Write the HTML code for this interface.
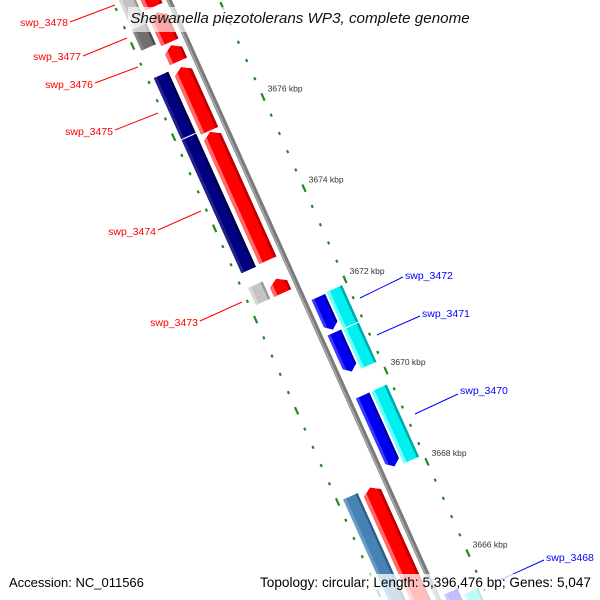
<!DOCTYPE html>
<html><head><meta charset="utf-8"><style>
html,body{margin:0;padding:0;background:#fff;width:600px;height:600px;overflow:hidden}
svg{display:block;font-family:"Liberation Sans","DejaVu Sans",sans-serif}
</style></head><body>
<svg id="map" width="600" height="600" viewBox="0 0 600 600" xmlns="http://www.w3.org/2000/svg" overflow="hidden">
<rect width="600" height="600" fill="#fff"/>
<g id="rot" transform="translate(169,0) rotate(-24.2)">
  <line x1="0" y1="-60" x2="0" y2="680" stroke="#7a7a7a" stroke-width="5"/>
  <line x1="-1.2" y1="-60" x2="-1.2" y2="680" stroke="#aaa" stroke-width="1.5"/>
  <g id="ticks"></g>
  <g id="genes"></g>
</g>
<g id="labels"></g>
<rect x="128" y="7" width="344" height="25" fill="#fff" fill-opacity="0.65"/>
<text x="300" y="23" text-anchor="middle" font-size="15.2" font-style="italic" fill="#111">Shewanella piezotolerans WP3, complete genome</text>
<rect x="4" y="574" width="146" height="26" fill="#fff" fill-opacity="0.75"/>
<rect x="256" y="574" width="344" height="26" fill="#fff" fill-opacity="0.75"/>
<text x="9" y="587" font-size="13" fill="#000">Accession: NC_011566</text>
<text x="591" y="587" font-size="13.6" text-anchor="end" fill="#000">Topology: circular; Length: 5,396,476 bp; Genes: 5,047</text>
</svg>
<script>
// ---- data ----
const geneStart = [3679.74,3678.30,3679.34,3678.42,3677.70,3677.22,3675.80,3677.24,3675.88,3672.64,3672.58,3671.90,3671.12,3671.92,3671.10,3669.74,3669.74,3668.00,3668.00,3665.44,3665.28];
const geneEnd   = [3678.30,3677.84,3678.54,3677.76,3677.34,3675.82,3672.98,3675.90,3672.96,3672.26,3672.26,3671.18,3670.26,3671.12,3670.24,3668.18,3668.16,3665.20,3665.20,3665.00,3665.00];
const geneTrack = ['oL','oL','iL','iL','iL','iL','iL','oL','oL','oL','iL','iR','iR','oR','oR','iR','oR','oL','iL','iR','oR'];
const geneKind  = ['lgray','dgray','red','red','red','red','red','navy','navy','lgray','red','blue','blue','cyan','cyan','blue','cyan','steel','red','blue','cyan'];
const majorTicks = [3678,3676,3674,3672,3670,3668,3666,3664];
const majorTickLabels = ['','3676 kbp','3674 kbp','3672 kbp','3670 kbp','3668 kbp','3666 kbp',''];
const labelNames = ['swp_3478','swp_3477','swp_3476','swp_3475','swp_3474','swp_3473','swp_3472','swp_3471','swp_3470','swp_3468'];
const labelColors = ['red','red','red','red','red','red','blue','blue','blue','blue'];

// ---- axis ----
const S = k => 127 + (3676 - k) * 50;
const COS = Math.cos(24.2*Math.PI/180), SIN = Math.sin(24.2*Math.PI/180);
const toScreen = (u,s) => [169 + u*COS + s*SIN, -u*SIN + s*COS];
const NS = 'http://www.w3.org/2000/svg';
const tracks = {oL:[-46,-30], iL:[-26,-7], iR:[7,22], oR:[24,41]};
const colors = {
  red:['#ff0000','#ff6a6a','#c00000'], navy:['#000080','#22228f','#00004a'],
  lgray:['#c4c4c4','#dadada','#999'], dgray:['#6e6e6e','#858585','#4a4a4a'],
  blue:['#0000ee','#3a3aff','#0000a0'], cyan:['#00f0f0','#70ffff','#00a8a8'],
  steel:['#4682b4','#6a9cc6','#2e5f88']
};
const arrowDir = {red:-1, blue:1};

const ticksG = document.getElementById('ticks');
for (let k = 3679.2; k >= 3664.4; k -= 0.4) {
  const kr = Math.round(k*10)/10;
  const major = Math.abs(kr/2 - Math.round(kr/2)) < 1e-6;
  const s = S(kr);
  for (const u of [-52, 46]) {
    const l = document.createElementNS(NS,'line');
    
    
    const h = major ? 4 : 1.5;
    l.setAttribute('x1', u); l.setAttribute('x2', u);
    l.setAttribute('y1', s-h); l.setAttribute('y2', s+h);
    l.setAttribute('stroke', '#1f8a1f'); l.setAttribute('stroke-width', '2.2');
    ticksG.appendChild(l);
  }
}

const svg = document.getElementById('map');
majorTicks.forEach((k,i) => {
  if (!majorTickLabels[i]) return;
  const [x,y] = toScreen(50, S(k));
  const t = document.createElementNS(NS,'text');
  
  
  t.setAttribute('x', x+1); t.setAttribute('y', y-4);
  t.setAttribute('font-size', '8.5'); t.setAttribute('fill', '#333');
  t.textContent = majorTickLabels[i];
  svg.insertBefore(t, document.getElementById('labels'));
});

const genesG = document.getElementById('genes');
const defs = document.createElementNS(NS,'defs');
genesG.appendChild(defs);
geneStart.forEach((k0,i) => {
  const s0 = S(k0), s1 = S(geneEnd[i]);
  const [u0,u1] = tracks[geneTrack[i]];
  const kind = geneKind[i], c = colors[kind];
  const um = (u0+u1)/2, h = 6;
  let pts;
  if (arrowDir[kind] === -1) pts = [[u0,s0+h],[um,s0],[u1,s0+h],[u1,s1],[u0,s1]];
  else if (arrowDir[kind] === 1) pts = [[u0,s0],[u1,s0],[u1,s1-h],[um,s1],[u0,s1-h]];
  else pts = [[u0,s0],[u1,s0],[u1,s1],[u0,s1]];
  const ps = pts.map(p=>p.join(',')).join(' ');
  const cp = document.createElementNS(NS,'clipPath');
  cp.setAttribute('id','cg'+i);
  const cpp = document.createElementNS(NS,'polygon'); cpp.setAttribute('points', ps);
  cp.appendChild(cpp); defs.appendChild(cp);
  const g = document.createElementNS(NS,'g');
  
  
  g.setAttribute('clip-path','url(#cg'+i+')');
  const base = document.createElementNS(NS,'polygon');
  base.setAttribute('points', ps); base.setAttribute('fill', c[0]);
  g.appendChild(base);
  const w = u1-u0;
  const lt = document.createElementNS(NS,'rect');
  lt.setAttribute('x', u0); lt.setAttribute('y', Math.min(s0,s1)-10);
  lt.setAttribute('width', w*0.2); lt.setAttribute('height', Math.abs(s1-s0)+20);
  lt.setAttribute('fill', c[1]); g.appendChild(lt);
  const dk = document.createElementNS(NS,'rect');
  dk.setAttribute('x', u1-w*0.15); dk.setAttribute('y', Math.min(s0,s1)-10);
  dk.setAttribute('width', w*0.15); dk.setAttribute('height', Math.abs(s1-s0)+20);
  dk.setAttribute('fill', c[2]); g.appendChild(dk);
  genesG.appendChild(g);
});

const labelPos = [[68,22,70,22,115,5],[81,56,83,56,127,38],[93,84,95,83,138,67],[113,131,115,130,158,113],
  [156,231,158,230,201,211],[198,322,200,321,242,302],[405,275,360,298,403,277],[422,313,377,335,420,316],
  [460,390,415,414,458,394],[546,557,500,580,544,560]];
const labelsG = document.getElementById('labels');
labelNames.forEach((n,i) => {
  const p = labelPos[i], col = labelColors[i];
  const l = document.createElementNS(NS,'line');
  
  
  l.setAttribute('x1',p[2]); l.setAttribute('y1',p[3]); l.setAttribute('x2',p[4]); l.setAttribute('y2',p[5]);
  l.setAttribute('stroke', col); l.setAttribute('stroke-width','1');
  labelsG.appendChild(l);
  const t = document.createElementNS(NS,'text');
  
  
  t.setAttribute('x', p[0]); t.setAttribute('y', p[1]+4);
  t.setAttribute('font-size','10.5'); t.setAttribute('fill', col);
  t.setAttribute('text-anchor', col==='red' ? 'end' : 'start');
  t.textContent = n;
  labelsG.appendChild(t);
});
</script>
</body></html>
